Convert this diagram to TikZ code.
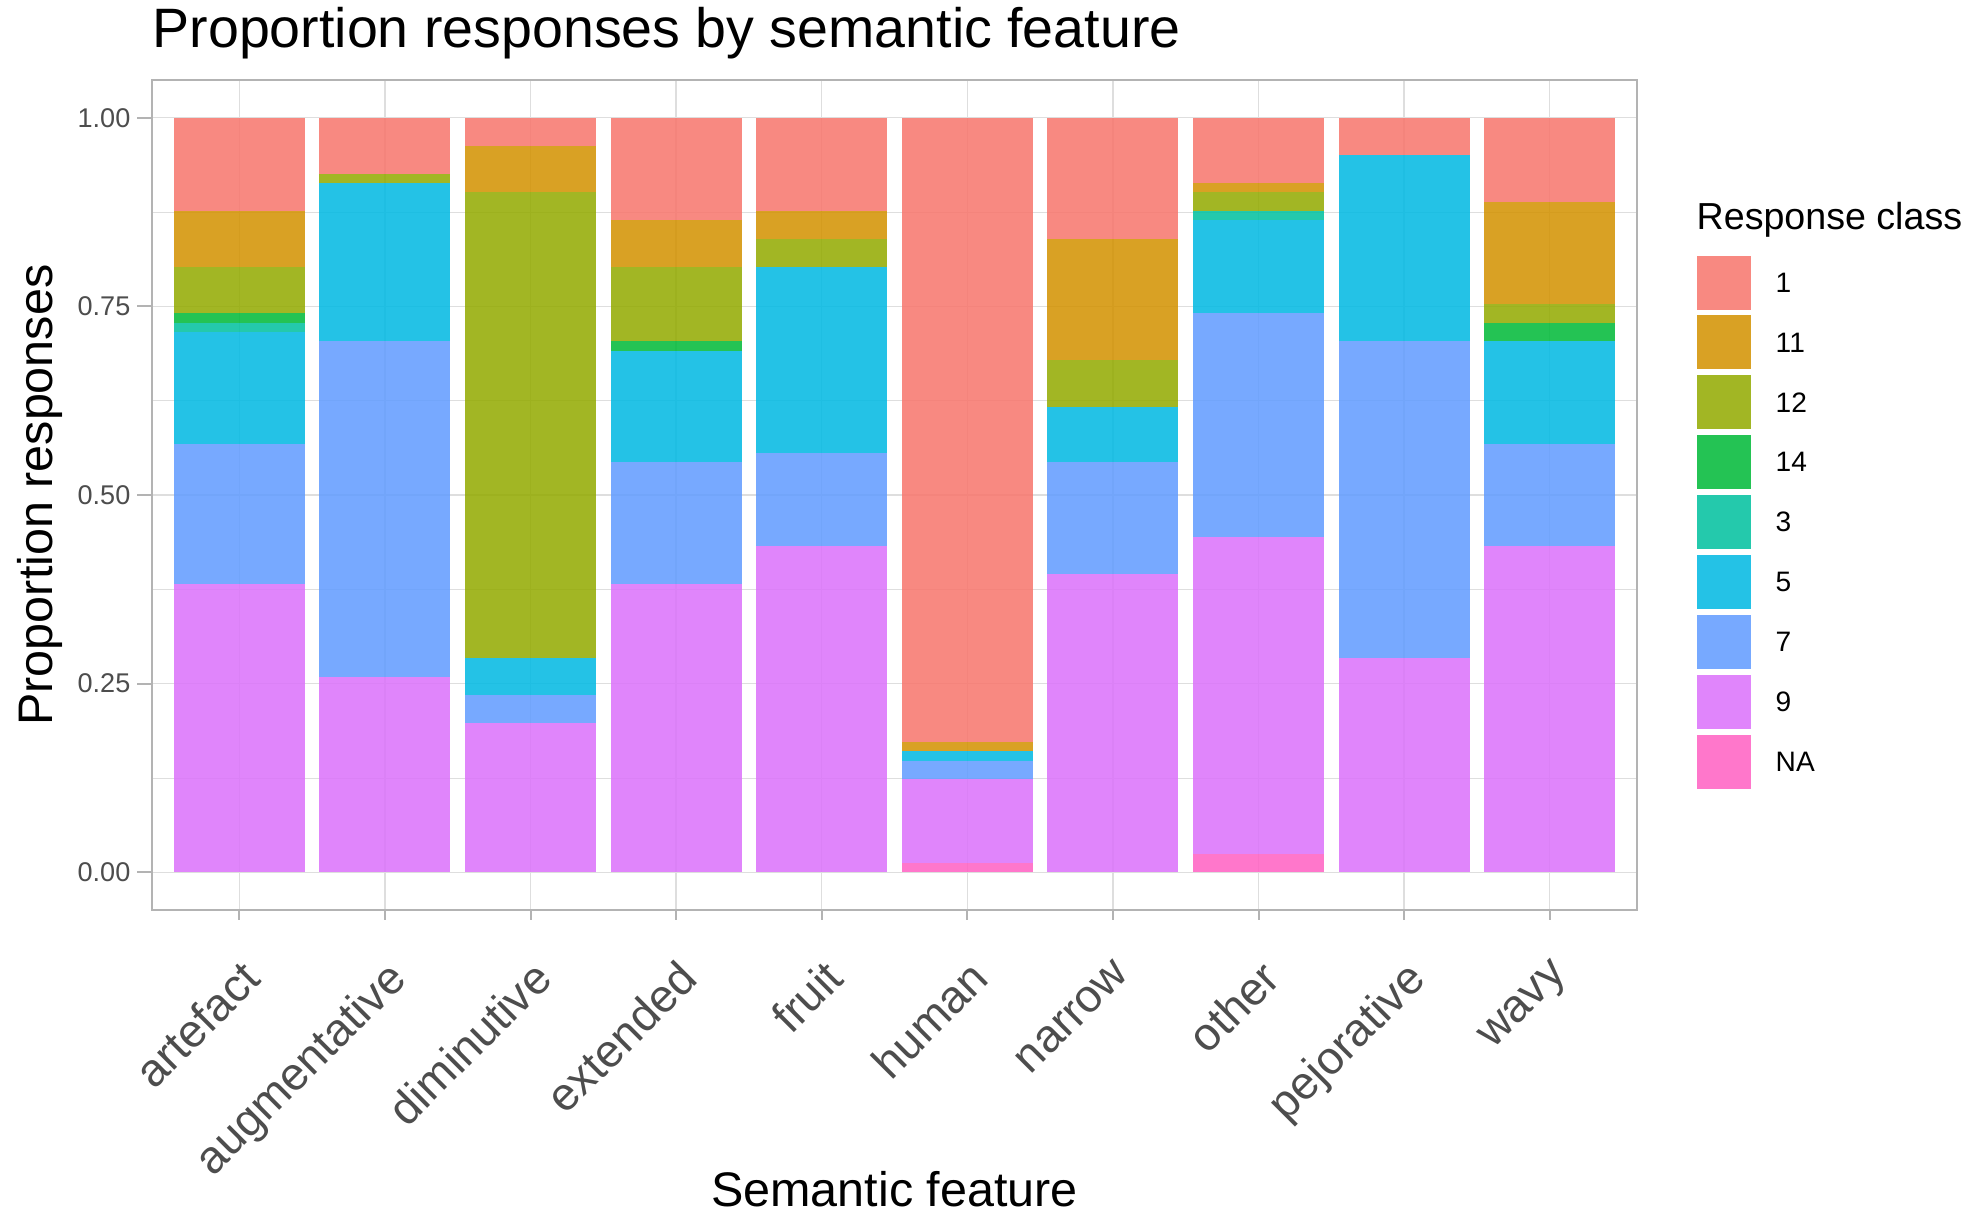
\documentclass[tikz,border=0pt]{standalone}
\usepackage{fontspec}
\setmainfont{Liberation Sans}
\definecolor{cA}{HTML}{F8766D}% 1
\definecolor{cB}{HTML}{D39200}% 11
\definecolor{cC}{HTML}{93AA00}% 12
\definecolor{cD}{HTML}{00BA38}% 14
\definecolor{cE}{HTML}{00C19F}% 3
\definecolor{cF}{HTML}{00B9E3}% 5
\definecolor{cG}{HTML}{619CFF}% 7
\definecolor{cH}{HTML}{DB72FB}% 9
\definecolor{cI}{HTML}{FF61C3}% NA
\definecolor{gridgray}{HTML}{DEDEDE}
\definecolor{bordergray}{HTML}{B3B3B3}
\definecolor{textgray}{HTML}{4D4D4D}
\newcommand{\seg}[4]{\fill[#4, fill opacity=0.86] (#1-0.45,#2/81) rectangle (#1+0.45,#3/81);}
\tikzset{
  majorgrid/.style={draw=gridgray, line width=0.4pt},
  minorgrid/.style={draw=gridgray, line width=0.2pt},
  tickline/.style={draw=bordergray, line width=0.55pt},
  xlab/.style={anchor=north east, rotate=45, inner sep=0pt, text=textgray, font=\fontsize{13.1}{15}\selectfont},
  ylab/.style={anchor=east, inner sep=0pt, text=textgray, font=\fontsize{7.7}{9}\selectfont},
  keybox/.style={fill opacity=0.86},
  keylab/.style={anchor=west, inner sep=0pt, font=\fontsize{8}{9.5}\selectfont},
}
\begin{document}
\begin{tikzpicture}
\useasboundingbox (0,0) rectangle (19.74cm,12.15cm);
\fill[white] (0,0) rectangle (19.74cm,12.15cm);
% title
\node[anchor=base west, inner sep=0pt, font=\fontsize{15.8}{18}\selectfont] (title) at (1.52cm,11.67cm) {Proportion responses by semantic feature};
% axis titles
\node[anchor=base, rotate=90, inner sep=0pt, font=\fontsize{13.8}{16}\selectfont] (ytitle) at (0.53cm,7.20cm) {Proportion responses};
\node[anchor=base, inner sep=0pt, font=\fontsize{13.8}{16}\selectfont] (xtitle) at (8.945cm,0.08cm) {Semantic feature};

\begin{scope}[shift={(0.9376cm,3.427cm)}, x=1.456cm, y=7.545cm]
  % grid
  \foreach \v in {0.125,0.375,0.625,0.875}
    \draw[minorgrid] (0.4,\v) -- (10.6,\v);
  \foreach \v in {0,0.25,0.5,0.75,1}
    \draw[majorgrid] (0.4,\v) -- (10.6,\v);
  \foreach \k in {1,...,10}
    \draw[majorgrid] (\k,-0.05) -- (\k,1.05);
  % bars: artefact
  \seg{1}{0}{31}{cH}\seg{1}{31}{46}{cG}\seg{1}{46}{58}{cF}\seg{1}{58}{59}{cE}
  \seg{1}{59}{60}{cD}\seg{1}{60}{65}{cC}\seg{1}{65}{71}{cB}\seg{1}{71}{81}{cA}
  % augmentative
  \seg{2}{0}{21}{cH}\seg{2}{21}{57}{cG}\seg{2}{57}{74}{cF}\seg{2}{74}{75}{cC}\seg{2}{75}{81}{cA}
  % diminutive
  \seg{3}{0}{16}{cH}\seg{3}{16}{19}{cG}\seg{3}{19}{23}{cF}\seg{3}{23}{73}{cC}\seg{3}{73}{78}{cB}\seg{3}{78}{81}{cA}
  % extended
  \seg{4}{0}{31}{cH}\seg{4}{31}{44}{cG}\seg{4}{44}{56}{cF}\seg{4}{56}{57}{cD}\seg{4}{57}{65}{cC}\seg{4}{65}{70}{cB}\seg{4}{70}{81}{cA}
  % fruit
  \seg{5}{0}{35}{cH}\seg{5}{35}{45}{cG}\seg{5}{45}{65}{cF}\seg{5}{65}{68}{cC}\seg{5}{68}{71}{cB}\seg{5}{71}{81}{cA}
  % human
  \seg{6}{0}{1}{cI}\seg{6}{1}{10}{cH}\seg{6}{10}{12}{cG}\seg{6}{12}{13}{cF}\seg{6}{13}{14}{cB}\seg{6}{14}{81}{cA}
  % narrow
  \seg{7}{0}{32}{cH}\seg{7}{32}{44}{cG}\seg{7}{44}{50}{cF}\seg{7}{50}{55}{cC}\seg{7}{55}{68}{cB}\seg{7}{68}{81}{cA}
  % other
  \seg{8}{0}{2}{cI}\seg{8}{2}{36}{cH}\seg{8}{36}{60}{cG}\seg{8}{60}{70}{cF}\seg{8}{70}{71}{cE}\seg{8}{71}{73}{cC}\seg{8}{73}{74}{cB}\seg{8}{74}{81}{cA}
  % pejorative
  \seg{9}{0}{23}{cH}\seg{9}{23}{57}{cG}\seg{9}{57}{77}{cF}\seg{9}{77}{81}{cA}
  % wavy
  \seg{10}{0}{35}{cH}\seg{10}{35}{46}{cG}\seg{10}{46}{57}{cF}\seg{10}{57}{59}{cD}\seg{10}{59}{61}{cC}\seg{10}{61}{72}{cB}\seg{10}{72}{81}{cA}
  % panel border
  \draw[draw=bordergray, line width=0.65pt] (0.4,-0.05) rectangle (10.6,1.05);
  % y ticks and labels
  \foreach \v/\t in {0/0.00,0.25/0.25,0.5/0.50,0.75/0.75,1/1.00}{
    \draw[tickline] (0.4,\v) -- (0.297,\v);
    \node[ylab] (yl\t) at (0.256,\v) {\t};
  }
  % x ticks and labels
  \foreach \k/\t in {1/artefact,2/augmentative,3/diminutive,4/extended,5/fruit,6/human,7/narrow,8/other,9/pejorative,10/wavy}{
    \draw[tickline] (\k,-0.05) -- (\k,-0.0633);
    \node[xlab] (xl\k) at (\k,-0.1123) {\t};
  }
\end{scope}

% legend
\node[anchor=base west, inner sep=0pt, font=\fontsize{10.7}{13}\selectfont] (legtitle) at (16.96cm,9.85cm) {Response class};
\foreach \i/\c/\t in {0/cA/1,1/cB/11,2/cC/12,3/cD/14,4/cE/3,5/cF/5,6/cG/7,7/cH/9,8/cI/NA}{
  \fill[\c, keybox] (16.97cm,{(1215-255.6-59.9*\i)/100*1cm}) rectangle (17.51cm,{(1215-309.6-59.9*\i)/100*1cm});
  \node[keylab] (lk\i) at (17.75cm,{(1215-282.6-59.9*\i)/100*1cm}) {\t};
}
\end{tikzpicture}
\end{document}
